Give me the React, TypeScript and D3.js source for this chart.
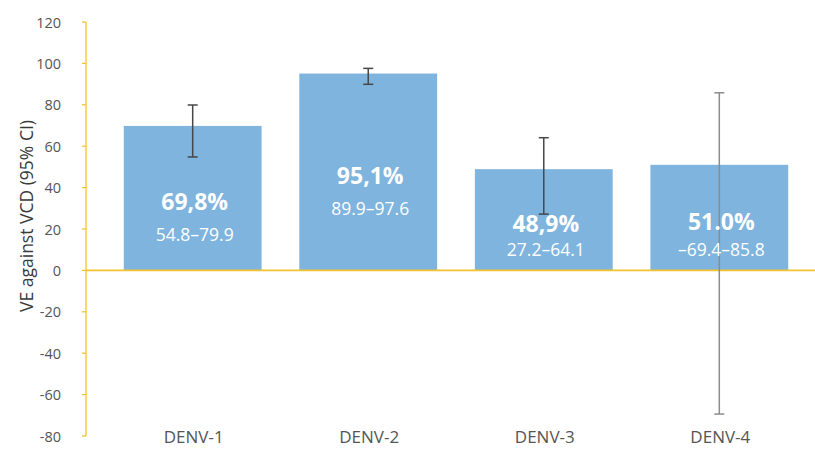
import React from "react";
import * as d3 from "d3";

// Vaccine efficacy against virologically-confirmed dengue, by serotype
const serotypes = ["DENV-1", "DENV-2", "DENV-3", "DENV-4"];
const efficacy = [69.8, 95.1, 48.9, 51.0];
const ciLow = [54.8, 89.9, 27.2, -69.4];
const ciHigh = [79.9, 97.6, 64.1, 85.8];
const efficacyLabels = ["69,8%", "95,1%", "48,9%", "51.0%"];
const ciLabels = ["54.8–79.9", "89.9–97.6", "27.2–64.1", "–69.4–85.8"];
const yTicks = [-80, -60, -40, -20, 0, 20, 40, 60, 80, 100, 120];

const W = 815;
const H = 449;
const axisX = 86;
const FONT = "'Open Sans', 'Noto Sans', sans-serif";

export default function App() {
  const y = d3.scaleLinear().domain([-80, 120]).range([436, 22]);
  const x = d3
    .scaleBand<string>()
    .domain(serotypes)
    .range([105, 807])
    .paddingInner(0.215)
    .paddingOuter(0.107);
  const y0 = y(0);
  const bw = x.bandwidth();
  const cap = 5;

  return (
    <svg
      width={W}
      height={H}
      style={{ position: "absolute", left: 0, top: 0, background: "#fff" }}
      fontFamily={FONT}
    >
      {/* bars */}
      {serotypes.map((s, i) => (
        <rect
          key={s}
          x={x(s)}
          y={y(Math.max(0, efficacy[i]))}
          width={bw}
          height={Math.abs(y(efficacy[i]) - y0)}
          fill="#7eb4dd"
        />
      ))}

      {/* zero baseline */}
      <line x1={axisX} x2={W} y1={y0} y2={y0} stroke="#f2c230" strokeWidth={1.6} />

      {/* y axis */}
      <line x1={axisX} x2={axisX} y1={y(120)} y2={y(-80)} stroke="#f2c230" strokeWidth={1.3} />
      {yTicks.map((t) => (
        <g key={t}>
          <line x1={axisX - 4} x2={axisX} y1={y(t)} y2={y(t)} stroke="#f2c230" strokeWidth={1.3} />
          <text
            x={61}
            y={y(t)}
            textAnchor="end"
            dominantBaseline="central"
            fontSize={14.5}
            fill="#555555"
          >
            {t}
          </text>
        </g>
      ))}
      <text
        transform={`translate(26, 216) rotate(-90)`}
        textAnchor="middle"
        dominantBaseline="central"
        fontSize={17.5}
        fill="#3a3a3a"
      >
        VE against VCD (95% CI)
      </text>

      {/* error bars */}
      {serotypes.map((s, i) => {
        const cx = (x(s) as number) + bw / 2;
        const col = i === 3 ? "#8c8c8c" : "#474747";
        return (
          <g key={s} stroke={col} strokeWidth={1.5}>
            <line x1={cx} x2={cx} y1={y(ciLow[i])} y2={y(ciHigh[i])} />
            <line x1={cx - cap} x2={cx + cap} y1={y(ciLow[i])} y2={y(ciLow[i])} />
            <line x1={cx - cap} x2={cx + cap} y1={y(ciHigh[i])} y2={y(ciHigh[i])} />
          </g>
        );
      })}

      {/* value labels inside bars */}
      {serotypes.map((s, i) => {
        const cx = (x(s) as number) + bw / 2 + 2;
        const mainY = y(efficacy[i] / 2) + 3;
        const subY = Math.min(mainY + 33, y0 - 21);
        return (
          <g key={s} fill="#ffffff" textAnchor="middle">
            <text x={cx} y={mainY} dominantBaseline="central" fontSize={23} fontWeight="bold">
              {efficacyLabels[i]}
            </text>
            <text x={cx} y={subY} dominantBaseline="central" fontSize={17.5}>
              {ciLabels[i]}
            </text>
          </g>
        );
      })}

      {/* category labels */}
      {serotypes.map((s) => (
        <text
          key={s}
          x={(x(s) as number) + bw / 2 + 1}
          y={436}
          textAnchor="middle"
          dominantBaseline="central"
          fontSize={17}
          fill="#555555"
        >
          {s}
        </text>
      ))}
    </svg>
  );
}
